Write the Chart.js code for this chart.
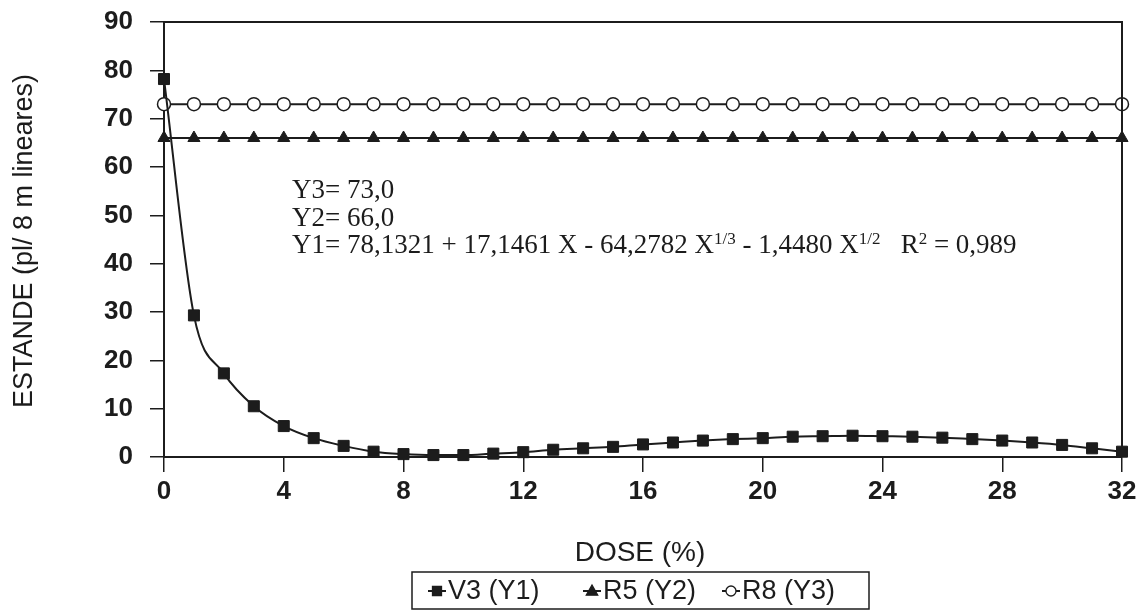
<!DOCTYPE html>
<html>
<head>
<meta charset="utf-8">
<script src="https://cdn.jsdelivr.net/npm/chart.js@4"></script>
<style>
  html, body { margin: 0; padding: 0; background: #fff; }
  #wrap { width: 1137px; height: 610px; }
</style>
</head>
<body>
<div id="wrap"><canvas id="chart" width="1137" height="610"></canvas></div>
<script>
// dose (%) on the x axis
var doses = [0, 1, 2, 3, 4, 5, 6, 7, 8, 9, 10, 11, 12, 13, 14, 15, 16,
             17, 18, 19, 20, 21, 22, 23, 24, 25, 26, 27, 28, 29, 30, 31, 32];
var v3Values = [78.2, 29.3, 17.3, 10.5, 6.4, 3.9, 2.3, 1.1, 0.6, 0.4, 0.4, 0.7, 1.0,
                1.5, 1.8, 2.1, 2.6, 3.0, 3.4, 3.7, 3.9, 4.2, 4.3, 4.4, 4.3, 4.2,
                4.0, 3.7, 3.4, 3.0, 2.5, 1.8, 1.1];
var r5Values = [66, 66, 66, 66, 66, 66, 66, 66, 66, 66, 66, 66, 66, 66, 66, 66, 66,
                66, 66, 66, 66, 66, 66, 66, 66, 66, 66, 66, 66, 66, 66, 66, 66];
var r8Values = [73, 73, 73, 73, 73, 73, 73, 73, 73, 73, 73, 73, 73, 73, 73, 73, 73,
                73, 73, 73, 73, 73, 73, 73, 73, 73, 73, 73, 73, 73, 73, 73, 73];
var seriesLabels = ["V3 (Y1)", "R5 (Y2)", "R8 (Y3)"];
var xTickValues = [0, 4, 8, 12, 16, 20, 24, 28, 32];
var yTickValues = [0, 10, 20, 30, 40, 50, 60, 70, 80, 90];

var ink = '#1c1c1c';
var sans = '"Liberation Sans", Arial, sans-serif';
var serif = '"Liberation Serif", "Times New Roman", serif';

function points(vals) {
    return doses.map((d, i) => ({ x: d, y: vals[i] }));
}

// equation lines, superscripts marked
var eqLines = [
    [{ t: "Y3= 73,0" }],
    [{ t: "Y2= 66,0" }],
    [{ t: "Y1= 78,1321 + 17,1461 X - 64,2782 X" }, { t: "1/3", sup: true },
     { t: " - 1,4480 X" }, { t: "1/2", sup: true }, { t: "   R" }, { t: "2", sup: true },
     { t: " = 0,989" }]
];

function drawMarker(ctx, style, x, y, r, fill) {
    ctx.beginPath();
    if (style === 'rect') {
        ctx.rect(x - r, y - r, 2 * r, 2 * r);
    } else if (style === 'triangle') {
        ctx.moveTo(x, y - r);
        ctx.lineTo(x + r * 0.95, y + r * 0.7);
        ctx.lineTo(x - r * 0.95, y + r * 0.7);
        ctx.closePath();
    } else {
        ctx.arc(x, y, r, 0, Math.PI * 2);
    }
    ctx.fillStyle = fill;
    ctx.fill();
    ctx.lineWidth = 1.3;
    ctx.strokeStyle = ink;
    ctx.stroke();
}

var extras = {
    id: 'extras',
    afterDraw(chart) {
        let ctx = chart.ctx;
        let a = chart.chartArea;
        ctx.save();

        // frame
        ctx.strokeStyle = ink;
        ctx.lineWidth = 2;
        ctx.beginPath();
        ctx.moveTo(a.left, a.top);
        ctx.lineTo(a.right, a.top);
        ctx.lineTo(a.right, a.bottom);
        ctx.stroke();

        ctx.fillStyle = ink;

        // axis titles
        ctx.font = '27px ' + sans;
        ctx.textAlign = 'center';
        ctx.textBaseline = 'alphabetic';
        ctx.save();
        ctx.translate(32, 241);
        ctx.rotate(-Math.PI / 2);
        ctx.fillText("ESTANDE (pl/ 8 m lineares)", 0, 0);
        ctx.restore();
        ctx.font = '28px ' + sans;
        ctx.fillText("DOSE (%)", 640, 561);

        // equations
        ctx.textAlign = 'left';
        let baselines = [198, 226, 253];
        eqLines.forEach((runs, li) => {
            let x = 292;
            runs.forEach(r => {
                ctx.font = (r.sup ? '17px ' : '27px ') + serif;
                ctx.fillText(r.t, x, r.sup ? baselines[li] - 9 : baselines[li]);
                x += ctx.measureText(r.t).width;
            });
        });

        // legend box
        ctx.lineWidth = 1.5;
        ctx.strokeRect(412, 572, 457, 37);
        let starts = [428, 583, 722];
        let cy = 591;
        ctx.font = '27px ' + sans;
        ctx.textBaseline = 'middle';
        chart.data.datasets.forEach((ds, i) => {
            let x0 = starts[i];
            ctx.lineWidth = 2;
            ctx.strokeStyle = ink;
            ctx.beginPath();
            ctx.moveTo(x0, cy);
            ctx.lineTo(x0 + 18, cy);
            ctx.stroke();
            let r = ds.pointStyle === 'rect' ? 4.5 : (ds.pointStyle === 'triangle' ? 6 : 5);
            drawMarker(ctx, ds.pointStyle, x0 + 9, cy, r, ds.pointBackgroundColor);
            ctx.fillStyle = ink;
            ctx.fillText(ds.label, x0 + 20, cy + 1);
        });
        ctx.restore();
    }
};

var ctx = document.getElementById("chart");
var chart = new Chart(ctx, {
    type: 'line',
    data: {
        datasets: [{
            label: seriesLabels[0],
            data: points(v3Values),
            borderColor: ink,
            borderWidth: 2,
            pointStyle: 'rect',
            pointRadius: 7.8,
            pointBackgroundColor: ink,
            pointBorderColor: ink,
            pointBorderWidth: 1,
            cubicInterpolationMode: 'monotone',
            clip: false
        }, {
            label: seriesLabels[1],
            data: points(r5Values),
            borderColor: ink,
            borderWidth: 2,
            pointStyle: 'triangle',
            pointRadius: 7,
            pointBackgroundColor: ink,
            pointBorderColor: ink,
            pointBorderWidth: 1,
            clip: false
        }, {
            label: seriesLabels[2],
            data: points(r8Values),
            borderColor: ink,
            borderWidth: 2,
            pointStyle: 'circle',
            pointRadius: 6.5,
            pointBackgroundColor: '#ffffff',
            pointBorderColor: ink,
            pointBorderWidth: 1.5,
            clip: false
        }]
    },
    options: {
        responsive: false,
        animation: false,
        events: [],
        layout: { padding: { top: 22, right: 15, left: 0, bottom: 0 } },
        plugins: {
            legend: { display: false },
            tooltip: { enabled: false }
        },
        scales: {
            x: {
                type: 'linear',
                min: 0,
                max: 32,
                afterBuildTicks: s => { s.ticks = xTickValues.map(v => ({ value: v })); },
                afterFit: s => {
                    s.height = 153;
                    s.paddingLeft = 0;
                    s.paddingRight = 0;
                },
                grid: { drawOnChartArea: false, drawTicks: true, tickLength: 15, color: ink, lineWidth: 1.5 },
                border: { display: true, color: ink, width: 2 },
                ticks: {
                    color: ink,
                    font: { family: sans, size: 26, weight: 'bold' },
                    padding: 4,
                    maxRotation: 0,
                    autoSkip: false
                }
            },
            y: {
                min: 0,
                max: 90,
                afterBuildTicks: s => { s.ticks = yTickValues.map(v => ({ value: v })); },
                afterFit: s => {
                    s.width = 164;
                    s.paddingTop = 0;
                    s.paddingBottom = 0;
                },
                grid: { drawOnChartArea: false, drawTicks: true, tickLength: 14, color: ink, lineWidth: 1.5 },
                border: { display: true, color: ink, width: 2 },
                ticks: {
                    color: ink,
                    font: { family: sans, size: 26, weight: 'bold' },
                    padding: 17
                }
            }
        }
    },
    plugins: [extras]
});
</script>
</body>
</html>
